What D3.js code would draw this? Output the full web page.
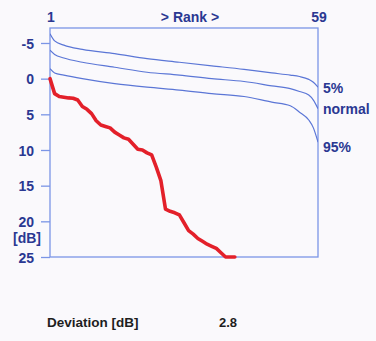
<!DOCTYPE html>
<html><head><meta charset="utf-8">
<script src="https://cdn.jsdelivr.net/npm/d3@7"></script>
<style>
html,body{margin:0;padding:0;background:#faf9fc;}
svg{display:block;}
text{font-family:"Liberation Sans",Arial,sans-serif;}
</style></head>
<body>
<script>
// Data
const rankDomain = [1, 59];
const dbDomain = [-7.1, 25];
const yTicks = [-5, 0, 5, 10, 15, 20, 25];

const patientRanks = [1,2,3,4,5,6,7,8,9,10,11,12,13,14,15,16,17,18,19,20,21,22,23,24,25,26,27,28,29,30,31,32,33,34,35,36,37,38,39,40,41];
const patientValues = [0,2.1,2.5,2.6,2.7,2.75,3.0,3.9,4.3,4.9,5.9,6.5,6.7,6.9,7.5,7.9,8.3,8.5,9.2,9.9,10.0,10.4,10.7,12.4,14.3,18.3,18.6,18.8,19.1,20.2,21.3,21.8,22.4,22.8,23.2,23.5,23.8,24.4,25.0,25.0,25.0];

const normRanks = [1,2,4,8,15,22,29,36,43,49,53,55,57,58,59];
const p5Values     = [-6.3,-5.3,-4.7,-4.1,-3.5,-2.8,-2.3,-1.8,-1.3,-0.8,-0.5,-0.3,0.1,0.5,1.2];
const normalValues = [-4.0,-3.4,-2.9,-2.3,-1.6,-0.9,-0.5,0.0,0.4,1.0,1.4,1.8,2.3,3.0,4.2];
const p95Values    = [-1.4,-0.8,-0.5,0.0,0.7,1.2,1.6,2.1,2.5,3.3,3.8,4.7,5.8,6.9,8.9];
const curveLabels = ["5%", "normal", "95%"];

const deviationLabel = "Deviation [dB]";
const deviationValue = "2.8";

// Layout
const W = 376, H = 341;
const mLeft = 50, mRight = 318, mTop = 28, mBottom = 257;
const navy = "#2a3892", frameCol = "#7b95e6", curveCol = "#5b76d6", red = "#e3202a";
const fs = 14;

const svg = d3.select("body").append("svg").attr("width", W).attr("height", H);

const x = d3.scaleLinear().domain(rankDomain).range([mLeft, mRight]);
const y = d3.scaleLinear().domain(dbDomain).range([mTop, mBottom]);

svg.append("defs").append("clipPath").attr("id","clip")
  .append("rect").attr("x", mLeft).attr("y", mTop).attr("width", mRight-mLeft).attr("height", mBottom-mTop+2);

// Frame
svg.append("rect").attr("x", mLeft).attr("y", mTop).attr("width", mRight-mLeft).attr("height", mBottom-mTop)
  .attr("fill","none").attr("stroke", frameCol).attr("stroke-width", 1.3);

// Y axis
const yAxis = d3.axisLeft(y).tickValues(yTicks).tickSize(9).tickPadding(7).tickFormat(d => String(d));
const gy = svg.append("g").attr("transform", `translate(${mLeft},0)`).call(yAxis);
gy.select(".domain").remove();
gy.selectAll(".tick line").attr("stroke", frameCol).attr("stroke-width", 1.3);
gy.selectAll(".tick text").attr("fill", navy).attr("font-size", fs).attr("font-weight", "bold")
  .attr("font-family", '"Liberation Sans",Arial,sans-serif').attr("dy", "0.36em");

svg.append("text").attr("x", 41).attr("y", 243).attr("text-anchor","end")
  .attr("fill", navy).attr("font-size", fs).attr("font-weight","bold").text("[dB]");

// Top axis labels
const topG = svg.append("g").attr("fill", navy).attr("font-size", fs).attr("font-weight","bold");
topG.append("text").attr("x", x(rankDomain[0]) + 1).attr("y", 22).attr("text-anchor","middle").text(String(rankDomain[0]));
topG.append("text").attr("x", x(rankDomain[1]) + 1).attr("y", 22).attr("text-anchor","middle").text(String(rankDomain[1]));
topG.append("text").attr("x", 190).attr("y", 22).attr("text-anchor","middle").text(">  Rank  >");

// Normal curves
const line = d3.line().x(d => x(d[0])).y(d => y(d[1])).curve(d3.curveMonotoneX);
const series = [p5Values, normalValues, p95Values];
const plot = svg.append("g").attr("clip-path","url(#clip)");
series.forEach(vals => {
  plot.append("path").datum(normRanks.map((r,i) => [r, vals[i]]))
    .attr("d", line).attr("fill","none").attr("stroke", curveCol).attr("stroke-width", 1.2);
});

// Curve labels
const labelY = [88, 109, 147];
curveLabels.forEach((t,i) => {
  svg.append("text").attr("x", 323).attr("y", labelY[i]).attr("dy","0.36em")
    .attr("fill", navy).attr("font-size", fs).attr("font-weight","bold").text(t);
});

// Patient curve
const pline = d3.line().x(d => x(d[0])).y(d => y(d[1])).curve(d3.curveLinear);
svg.append("path").datum(patientRanks.map((r,i) => [r, patientValues[i]]))
  .attr("d", pline).attr("fill","none").attr("stroke", red).attr("stroke-width", 3.6)
  .attr("stroke-linejoin","round").attr("stroke-linecap","round");

// Bottom text
svg.append("text").attr("x", 47).attr("y", 327).attr("fill", "#1e1e1e").attr("font-size", 13.5)
  .attr("font-weight","bold").text(deviationLabel);
svg.append("text").attr("x", 219).attr("y", 327).attr("fill", "#1e1e1e").attr("font-size", 13)
  .attr("font-weight","bold").text(deviationValue);
</script>
</body></html>
